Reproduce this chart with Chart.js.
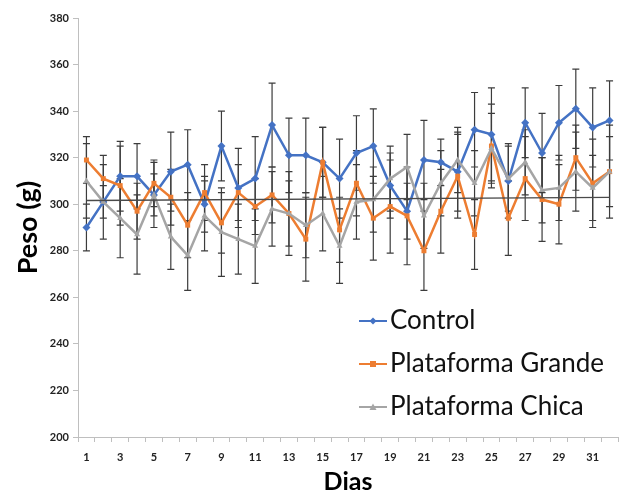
<!DOCTYPE html>
<html>
<head>
<meta charset="utf-8">
<script src="https://cdn.jsdelivr.net/npm/chart.js@4/dist/chart.umd.min.js"></script>
<style>
  html, body { margin: 0; padding: 0; background: #fff; }
  #chart { display: block; }
</style>
</head>
<body>
<canvas id="chart" width="626" height="497"></canvas>
<script>
// Days
const days = ["1", "2", "3", "4", "5", "6", "7", "8", "9", "10", "11", "12", "13", "14", "15", "16",
  "17", "18", "19", "20", "21", "22", "23", "24", "25", "26", "27", "28", "29", "30", "31", "32"];

// Mean weight (g)
const control = [290, 301, 312, 312, 304, 314, 317, 300, 325, 307, 311, 334, 321, 321, 318, 311,
  322, 325, 308, 297, 319, 318, 314, 332, 330, 310, 335, 322, 335, 341, 333, 336];
const grande = [319, 311, 308, 297, 309, 303, 291, 305, 292, 305, 299, 304, 296, 285, 318, 289,
  309, 294, 299, 295, 280, 297, 312, 287, 325, 294, 311, 302, 300, 320, 309, 314];
const chica = [310, 301, 294, 287, 304, 286, 278, 295, 288, 285, 282, 298, 296, 291, 296, 282,
  301, 302, 311, 316, 295, 309, 319, 309, 324, 311, 318, 306, 307, 314, 307, 314];

// Error bars (+/- g)
const errControl = [10, 7, 15, 14, 9, 17, 15, 12, 15, 17, 18, 18, 16, 16, 15, 17,
  16, 16, 14, 12, 17, 10, 17, 16, 20, 16, 15, 17, 16, 17, 17, 17];
const errGrande = [10, 10, 17, 12, 10, 12, 14, 12, 13, 12, 12, 12, 14, 18, 15, 14,
  14, 18, 20, 21, 17, 18, 18, 15, 18, 16, 18, 18, 17, 14, 19, 20];
const errChica = [16, 16, 17, 17, 14, 14, 15, 15, 19, 15, 16, 16, 18, 14, 16, 16,
  16, 14, 14, 14, 14, 14, 14, 14, 15, 14, 14, 14, 14, 17, 14, 15];

// Trend line (start / end)
const trend = [301.6, null, null, null, null, null, null, null, null, null, null, null, null, null, null, null,
  null, null, null, null, null, null, null, null, null, null, null, null, null, null, null, 302.9];

const yTicks = [200, 220, 240, 260, 280, 300, 320, 340, 360, 380];

const BLUE = "#4472C4";
const ORANGE = "#ED7D31";
const GRAY = "#A5A5A5";

// error bars under the lines
const errorBars = {
  id: "errorBars",
  beforeDatasetsDraw(chart) {
    const { ctx, scales: { x, y } } = chart;
    ctx.save();
    ctx.strokeStyle = "#3c3c3c";
    ctx.lineWidth = 1.2;
    chart.data.datasets.forEach((ds) => {
      if (!ds.err) return;
      ds.data.forEach((v, i) => {
        const px = x.getPixelForValue(i);
        const top = y.getPixelForValue(v + ds.err[i]);
        const bot = y.getPixelForValue(v - ds.err[i]);
        ctx.beginPath();
        ctx.moveTo(px, top);
        ctx.lineTo(px, bot);
        ctx.moveTo(px - 3.5, top);
        ctx.lineTo(px + 3.5, top);
        ctx.moveTo(px - 3.5, bot);
        ctx.lineTo(px + 3.5, bot);
        ctx.stroke();
      });
    });
    ctx.restore();
  },
};

// legend inside the plot, lower right
const innerLegend = {
  id: "innerLegend",
  afterDraw(chart) {
    const ctx = chart.ctx;
    const items = [
      { text: "Control", color: BLUE, shape: "diamond", y: 321 },
      { text: "Plataforma Grande", color: ORANGE, shape: "square", y: 364 },
      { text: "Plataforma Chica", color: GRAY, shape: "triangle", y: 407 },
    ];
    ctx.save();
    items.forEach((it) => {
      ctx.strokeStyle = it.color;
      ctx.fillStyle = it.color;
      ctx.lineWidth = 2;
      ctx.beginPath();
      ctx.moveTo(359, it.y);
      ctx.lineTo(387, it.y);
      ctx.stroke();
      const cx = 373, cy = it.y;
      ctx.beginPath();
      if (it.shape === "diamond") {
        ctx.moveTo(cx, cy - 3.5); ctx.lineTo(cx + 3.5, cy); ctx.lineTo(cx, cy + 3.5); ctx.lineTo(cx - 3.5, cy);
      } else if (it.shape === "square") {
        ctx.rect(cx - 3, cy - 3, 6, 6);
      } else {
        ctx.moveTo(cx, cy - 3.5); ctx.lineTo(cx + 3.5, cy + 3); ctx.lineTo(cx - 3.5, cy + 3);
      }
      ctx.closePath();
      ctx.fill();
      ctx.fillStyle = "#111";
      ctx.font = "26px Lato";
      ctx.textBaseline = "middle";
      ctx.fillText(it.text, 390, it.y);
    });
    ctx.restore();
  },
};

const lineDs = (label, data, err, color, style, order) => ({
  label,
  data,
  err,
  borderColor: color,
  backgroundColor: color,
  borderWidth: 2.5,
  pointStyle: style,
  pointRadius: style === "rectRot" ? 4 : 3.5,
  pointBorderWidth: 0,
  tension: 0,
  order,
});

new Chart(document.getElementById("chart"), {
  type: "line",
  data: {
    labels: days,
    datasets: [
      lineDs("Control", control, errControl, BLUE, "rectRot", 3),
      lineDs("Plataforma Grande", grande, errGrande, ORANGE, "rect", 2),
      lineDs("Plataforma Chica", chica, errChica, GRAY, "triangle", 1),
      {
        label: "trend",
        data: trend,
        borderColor: "#4a4a4a",
        borderWidth: 1.3,
        pointRadius: 0,
        spanGaps: true,
        order: 0,
      },
    ],
  },
  options: {
    responsive: false,
    animation: false,
    devicePixelRatio: 1,
    layout: { padding: { top: 18, right: 8, left: 0, bottom: 0 } },
    plugins: {
      legend: { display: false },
      tooltip: { enabled: false },
    },
    scales: {
      x: {
        offset: true,
        grid: { offset: true, drawOnChartArea: false, color: "#bfbfbf", tickLength: 5 },
        border: { color: "#bfbfbf", width: 1 },
        ticks: {
          autoSkip: false,
          maxRotation: 0,
          padding: 9,
          color: "#222",
          font: { family: "Lato", size: 11, weight: "bold" },
          callback: (v, i) => (i % 2 === 0 ? days[i] : ""),
        },
        title: {
          display: true,
          text: "Dias",
          color: "#000",
          font: { family: "Lato", size: 25, weight: "bold" },
          padding: { top: 0, bottom: 0 },
        },
        afterFit: (s) => { s.height = 60; },
      },
      y: {
        min: 200,
        max: 380,
        afterBuildTicks: (s) => { s.ticks = yTicks.map((v) => ({ value: v })); },
        grid: { drawOnChartArea: false, color: "#bfbfbf", tickLength: 5 },
        border: { color: "#bfbfbf", width: 1 },
        ticks: {
          padding: 4,
          color: "#222",
          font: { family: "Lato", size: 11, weight: "bold" },
        },
        title: {
          display: true,
          text: "Peso (g)",
          color: "#000",
          font: { family: "Lato", size: 27, weight: "bold" },
          padding: { top: 12, bottom: 0 },
        },
        afterFit: (s) => { s.width = 78; },
      },
    },
  },
  plugins: [errorBars, innerLegend],
});
</script>
</body>
</html>
